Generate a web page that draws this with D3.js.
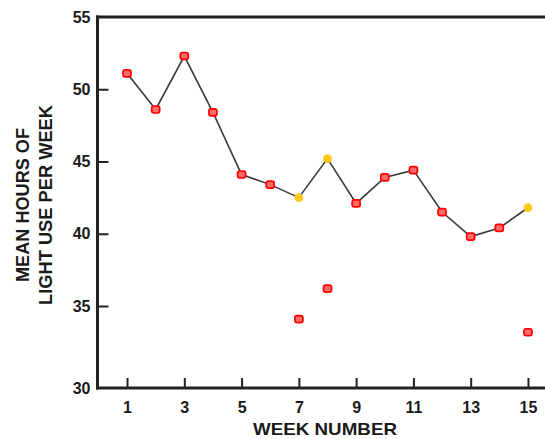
<!DOCTYPE html>
<html>
<head>
<meta charset="utf-8">
<script src="https://cdn.jsdelivr.net/npm/d3@7"></script>
<style>
  html, body { margin: 0; padding: 0; background: #fff; }
  svg { display: block; }
  .lbl { font-family: "Liberation Sans Narrow", "Arial Narrow", "Liberation Sans", sans-serif; font-weight: bold; fill: #1a1a1a; }
</style>
</head>
<body>
<svg id="chart" width="545" height="439"></svg>
<script>
// ---- data ----
const weeks = [1, 2, 3, 4, 5, 6, 7, 8, 9, 10, 11, 12, 13, 14, 15];
const meanHours = [51.1, 48.6, 52.3, 48.4, 44.1, 43.4, 42.5, 45.2, 42.1, 43.9, 44.4, 41.5, 39.8, 40.4, 41.8];
const highlightWeeks = [7, 8, 15];
const outlierWeeks = [7, 8, 15];
const outlierHours = [34.2, 36.2, 33.4];
const xTickValues = [1, 3, 5, 7, 9, 11, 13, 15];
const yTickValues = [30, 35, 40, 45, 50, 55];
const xTitle = "WEEK NUMBER";
const yTitleLines = ["MEAN HOURS OF", "LIGHT USE PER WEEK"];

// ---- layout ----
const svg = d3.select("#chart");
const axisX0 = 97.5, axisY0 = 388, topY = 17, rightEdge = 546;

const x = d3.scaleLinear().domain([0, 16]).range([98.4, 556.6]);
const y = d3.scaleLinear().domain([30, 35, 55]).range([388, 306, 17]);

const axisColor = "#222";

// y axis
const yAxis = d3.axisLeft(y).tickValues(yTickValues).tickSizeInner(-11).tickSizeOuter(0).tickPadding(7);
const gy = svg.append("g").attr("transform", `translate(${axisX0},0)`).call(yAxis);
gy.select(".domain").remove();
gy.selectAll(".tick line").attr("stroke", axisColor).attr("stroke-width", 2)
  .filter(d => d === 30 || d === 55).remove();
gy.selectAll(".tick text").attr("class", "lbl").attr("font-size", 16).attr("fill", "#1a1a1a");

// x axis
const xAxis = d3.axisBottom(x).tickValues(xTickValues).tickSizeInner(-10).tickSizeOuter(0).tickPadding(14);
const gx = svg.append("g").attr("transform", `translate(0,${axisY0})`).call(xAxis);
gx.select(".domain").remove();
gx.selectAll(".tick line").attr("stroke", axisColor).attr("stroke-width", 2);
gx.selectAll(".tick text").attr("class", "lbl").attr("font-size", 16).attr("fill", "#1a1a1a");

// frame lines
svg.append("line").attr("x1", axisX0).attr("x2", axisX0).attr("y1", topY - 1.5).attr("y2", axisY0 + 1.5)
  .attr("stroke", axisColor).attr("stroke-width", 3);
svg.append("line").attr("x1", axisX0 - 1.5).attr("x2", rightEdge).attr("y1", axisY0).attr("y2", axisY0)
  .attr("stroke", axisColor).attr("stroke-width", 3);
svg.append("line").attr("x1", axisX0 - 1.5).attr("x2", rightEdge).attr("y1", topY).attr("y2", topY)
  .attr("stroke", axisColor).attr("stroke-width", 3);

// connecting line
const pts = weeks.map((w, i) => ({ w, v: meanHours[i] }));
svg.append("path").datum(pts)
  .attr("d", d3.line().x(d => x(d.w)).y(d => y(d.v)))
  .attr("fill", "none").attr("stroke", "#3a3a3a").attr("stroke-width", 1.6);

// markers
function drawRed(sel) {
  sel.append("rect")
    .attr("x", d => x(d.w) - 4).attr("y", d => y(d.v) - 3.5)
    .attr("width", 8).attr("height", 7).attr("rx", 2.2)
    .attr("fill", "#ff6a6a").attr("stroke", "#ff0000").attr("stroke-width", 1.7);
}
const mainRed = pts.filter(d => !highlightWeeks.includes(d.w));
const mainYellow = pts.filter(d => highlightWeeks.includes(d.w));
drawRed(svg.append("g").selectAll("g").data(mainRed).join("g"));
svg.append("g").selectAll("circle").data(mainYellow).join("circle")
  .attr("cx", d => x(d.w)).attr("cy", d => y(d.v)).attr("r", 4.4)
  .attr("fill", "#ffc81a");
const outs = outlierWeeks.map((w, i) => ({ w, v: outlierHours[i] }));
drawRed(svg.append("g").selectAll("g").data(outs).join("g"));

// titles
svg.append("text").attr("class", "lbl").attr("x", 325).attr("y", 435)
  .attr("text-anchor", "middle").attr("font-size", 17)
  .attr("textLength", 144).attr("lengthAdjust", "spacingAndGlyphs")
  .text(xTitle);

const ty = svg.append("g").attr("transform", "translate(0,205) rotate(-90)");
ty.append("text").attr("class", "lbl").attr("x", 0).attr("y", 29)
  .attr("text-anchor", "middle").attr("font-size", 18)
  .attr("textLength", 154).attr("lengthAdjust", "spacingAndGlyphs")
  .text(yTitleLines[0]);
ty.append("text").attr("class", "lbl").attr("x", 0).attr("y", 52)
  .attr("text-anchor", "middle").attr("font-size", 18)
  .attr("textLength", 200).attr("lengthAdjust", "spacingAndGlyphs")
  .text(yTitleLines[1]);
</script>
</body>
</html>
